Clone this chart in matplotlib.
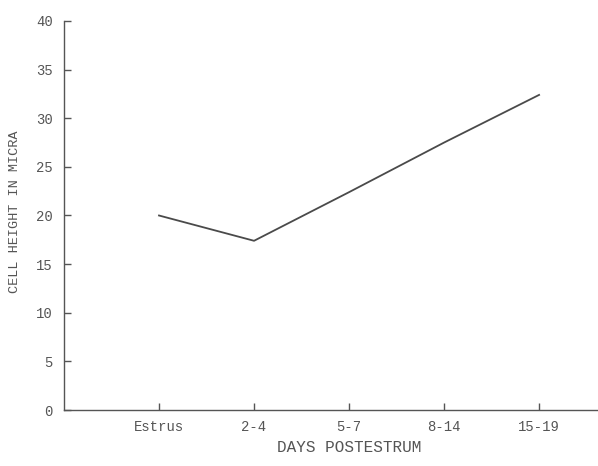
import matplotlib
matplotlib.use("Agg")
import matplotlib.pyplot as plt

categories = ["Estrus", "2-4", "5-7", "8-14", "15-19"]
cell_height = [20.0, 17.4, 22.4, 27.5, 32.4]
y_ticks = [0, 5, 10, 15, 20, 25, 30, 35, 40]

W, H = 598, 466
plt.rcParams['font.family'] = ['Liberation Mono', 'DejaVu Sans Mono']
fig = plt.figure(figsize=(W/100, H/100), dpi=100)
ax = fig.add_axes([64/W, 1 - 410/H, 1 - 64/W, (410 - 21)/H])
x = list(range(1, len(categories) + 1))
ax.plot(x, cell_height, color="#4a4a4a", linewidth=1.3)
ax.set_xlim(0, 5.62)
ax.set_ylim(0, 40)
ax.set_xticks(x)
ax.set_xticklabels(categories)
ax.set_yticks(y_ticks)
for s in ["top", "right"]:
    ax.spines[s].set_visible(False)
for s in ["left", "bottom"]:
    ax.spines[s].set_color("#555555")
    ax.spines[s].set_linewidth(1.0)
ax.tick_params(axis="both", direction="in", length=5, width=1, color="#555555",
               labelcolor="#555555", labelsize=10)
ax.tick_params(axis="x", pad=7)
ax.tick_params(axis="y", pad=8)
fig.text(15/W, 1 - 212/H, "CELL HEIGHT IN MICRA", rotation=90, fontsize=9.7,
         color="#555555", ha="center", va="center")
fig.text(349/W, 1 - 447/H, "DAYS POSTESTRUM", fontsize=11.5,
         color="#555555", ha="center", va="center")
fig.savefig("out.png", dpi=100)
